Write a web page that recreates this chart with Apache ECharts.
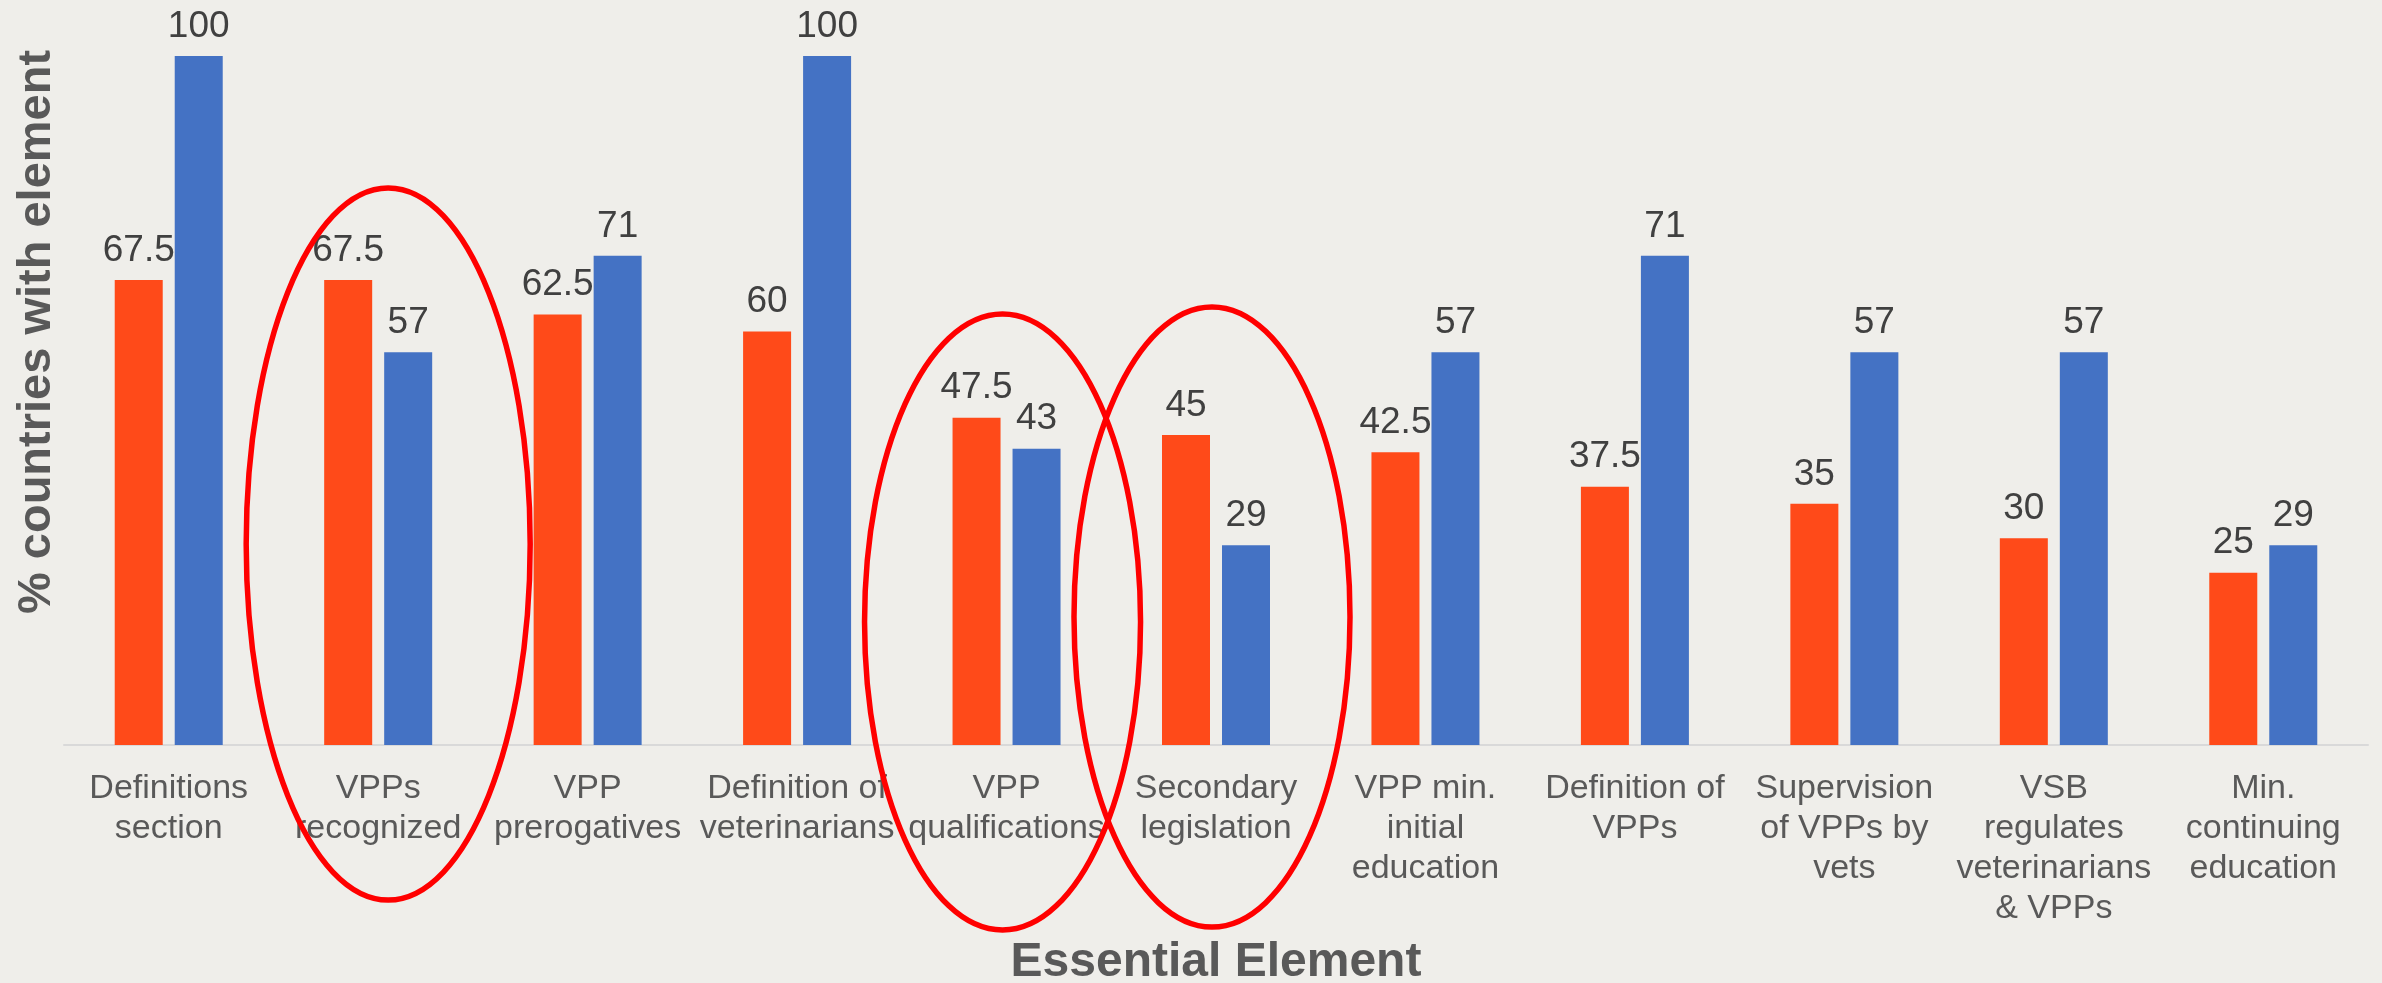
<!DOCTYPE html>
<html>
<head>
<meta charset="utf-8">
<style>
  html, body { margin: 0; padding: 0; background: #EFEEEA; }
  #chart { width: 2382px; height: 983px; }
</style>
<script src="https://cdn.jsdelivr.net/npm/echarts@6/dist/echarts.min.js"></script>
</head>
<body>
<div id="chart"></div>
<script>
// ---- data ----
const categories = [
  'Definitions\nsection',
  'VPPs\nrecognized',
  'VPP\nprerogatives',
  'Definition of\nveterinarians',
  'VPP\nqualifications',
  'Secondary\nlegislation',
  'VPP min.\ninitial\neducation',
  'Definition of\nVPPs',
  'Supervision\nof VPPs by\nvets',
  'VSB\nregulates\nveterinarians\n& VPPs',
  'Min.\ncontinuing\neducation'
];
const seriesOrange = [67.5, 67.5, 62.5, 60, 47.5, 45, 42.5, 37.5, 35, 30, 25];
const seriesBlue   = [100, 57, 71, 100, 43, 29, 57, 71, 57, 57, 29];
const xAxisTitle = 'Essential Element';
const yAxisTitle = '% countries with element';
// categories circled in red in the reference
const circledCategories = [1, 4, 5];

const FONT = "'Liberation Sans', Arial, Helvetica, sans-serif";
const chart = echarts.init(document.getElementById('chart'));

const labelStyle = {
  show: true,
  position: 'top',
  distance: 11,
  color: '#404040',
  fontSize: 37,
  fontFamily: FONT,
  lineHeight: 37
};

chart.setOption({
  backgroundColor: '#EFEEEA',
  animation: false,
  grid: { left: 64, right: 14, top: 56, bottom: 238, containLabel: false, outerBoundsMode: 'none' },
  xAxis: {
    type: 'category',
    data: categories,
    axisTick: { show: false },
    axisLine: { lineStyle: { color: '#D9D9D9', width: 2 } },
    axisLabel: {
      interval: 0,
      margin: 24,
      color: '#595959',
      fontSize: 34,
      lineHeight: 40,
      fontFamily: FONT,
      hideOverlap: false
    },
    name: xAxisTitle,
    nameLocation: 'middle',
    nameGap: 194,
    nameTextStyle: { color: '#595959', fontSize: 48, fontWeight: 'bold', fontFamily: FONT, lineHeight: 48 }
  },
  yAxis: {
    type: 'value',
    min: 0,
    max: 100,
    show: false
  },
  series: [
    {
      type: 'bar',
      data: seriesOrange,
      barWidth: 48,
      barGap: '25%',
      itemStyle: { color: '#FF4A19' },
      label: labelStyle
    },
    {
      type: 'bar',
      data: seriesBlue,
      barWidth: 48,
      itemStyle: { color: '#4472C4' },
      label: labelStyle
    }
  ],
  graphic: [
    {
      type: 'text',
      x: 37,
      y: 332,
      rotation: Math.PI / 2,
      style: {
        text: yAxisTitle,
        fill: '#595959',
        font: 'bold 47px ' + FONT,
        textAlign: 'center',
        textVerticalAlign: 'middle'
      }
    }
  ]
});

// red annotation ellipses around circled categories
const ellipseSpec = [
  { dx: 10, top: 188, bottom: 900, rx: 142 },
  { dx: -4, top: 314, bottom: 930, rx: 138 },
  { dx: -4, top: 307, bottom: 927, rx: 138 }
];
const ellipses = circledCategories.map((ci, i) => {
  const cx = chart.convertToPixel({ xAxisIndex: 0 }, ci);
  const s = ellipseSpec[i];
  return {
    type: 'ellipse',
    z: 100,
    shape: { cx: cx + s.dx, cy: (s.top + s.bottom) / 2, rx: s.rx, ry: (s.bottom - s.top) / 2 },
    style: { fill: 'none', stroke: '#FF0000', lineWidth: 5.5 }
  };
});
chart.setOption({ graphic: chart.getOption().graphic[0].elements.concat(ellipses) });
</script>
</body>
</html>
